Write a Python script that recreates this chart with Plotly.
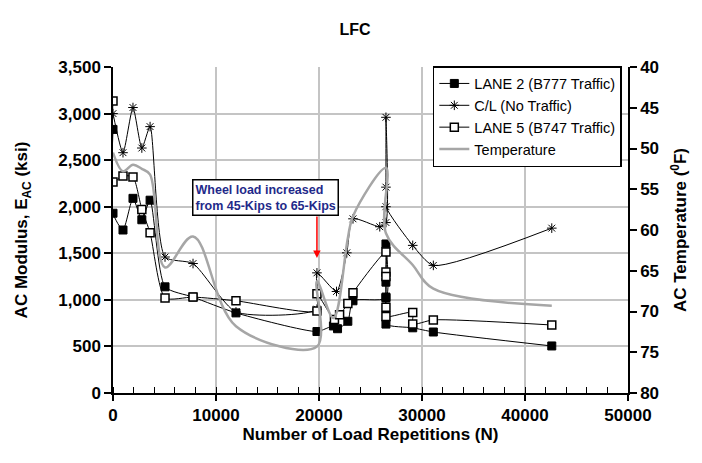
import plotly.graph_objects as go

# ---- data ----
lane2_n = [0, 0, 970, 1940, 2800, 3600, 5050, 7770, 11940, 19800, 21400, 21800, 22800, 23300,
           26500, 26500, 26500, 26500, 26500, 29100, 31100, 42600]
lane2_e = [2830, 1930, 1750, 2090, 1860, 2070, 1140, 1030, 860, 660, 720, 690, 770, 990,
           1020, 1600, 1190, 1030, 740, 700, 655, 505]

cl_n = [0, 970, 1940, 2800, 3600, 5050, 7770, 11940, 19800, 19800, 21700, 22700, 23300, 25900,
        26500, 26500, 26500, 26500, 29100, 31100, 42600]
cl_e = [3000, 2580, 3065, 2630, 2860, 1460, 1390, 870, 900, 1290, 1090, 1505, 1870, 1785,
        1830, 2960, 2210, 2000, 1585, 1370, 1770]

lane5_n = [0, 0, 970, 1940, 2800, 3600, 5050, 7770, 11940, 19800, 19800, 21500, 22000, 22800, 23300,
           26500, 26500, 26500, 26500, 26500, 29100, 29100, 31100, 42600]
lane5_e = [3135, 2265, 2330, 2320, 1970, 1720, 1020, 1030, 990, 880, 1065, 790, 840, 960, 1075,
           1515, 1300, 1250, 920, 820, 865, 740, 785, 730]

temp_n = [0, 970, 1940, 2800, 3600, 5050, 7770, 11940, 19800, 19800, 21400, 22800, 23300,
          26500, 26500, 29100, 31100, 42600]
temp_f = [50.5, 52.8, 52.0, 52.5, 53.2, 64.6, 60.8, 71.8, 74.3, 66.3, 70.8, 61.0, 58.3,
          52.4, 60.4, 64.3, 67.2, 69.3]

x_ticks = [0, 10000, 20000, 30000, 40000, 50000]
y_ticks = [0, 500, 1000, 1500, 2000, 2500, 3000, 3500]
t_ticks = [40, 45, 50, 55, 60, 65, 70, 75, 80]

FONT = "Arial, Liberation Sans, sans-serif"

fig = go.Figure()
fig.add_trace(go.Scatter(
    x=lane2_n, y=lane2_e, name="LANE 2 (B777 Traffic)", mode="lines+markers",
    line=dict(color="black", width=1, shape="spline", smoothing=0.6),
    marker=dict(symbol="square", size=8, color="black", line=dict(color="black", width=1))))
fig.add_trace(go.Scatter(
    x=cl_n, y=cl_e, name="C/L (No Traffic)", mode="lines+markers",
    line=dict(color="black", width=1, shape="spline", smoothing=0.6),
    marker=dict(symbol="asterisk-open", size=8, color="black", line=dict(color="black", width=1))))
fig.add_trace(go.Scatter(
    x=lane5_n, y=lane5_e, name="LANE 5 (B747 Traffic)", mode="lines+markers",
    line=dict(color="black", width=1, shape="spline", smoothing=0.6),
    marker=dict(symbol="square", size=8, color="white", line=dict(color="black", width=1.5))))
fig.add_trace(go.Scatter(
    x=temp_n, y=temp_f, name="Temperature", mode="lines", yaxis="y2",
    line=dict(color="#a6a6a6", width=2.5, shape="spline", smoothing=1.0)))

# page body has an 8px margin, so the figure is drawn 8px right/down
fig.update_layout(
    width=694, height=455,
    paper_bgcolor="white", plot_bgcolor="white",
    margin=dict(l=105, r=74, t=59, b=70, autoexpand=False),
    font=dict(family=FONT, color="black"),
    title=dict(text="LFC", x=0.5, xanchor="center", y=0.952, yanchor="middle",
               font=dict(size=16, weight="bold", family=FONT)),
    showlegend=True,
    legend=dict(x=0.621, y=1.003, xanchor="left", yanchor="top",
                bgcolor="white", bordercolor="black", borderwidth=1.5,
                font=dict(size=14.5, family=FONT, color="black"),
                tracegroupgap=0, itemwidth=30),
    xaxis=dict(range=[0, 50000], tickvals=x_ticks, ticktext=[str(v) for v in x_ticks],
               showgrid=True, gridcolor="#c4c4c4", gridwidth=1.5,
               showline=True, linecolor="black", linewidth=1.5,
               ticks="outside", ticklen=6, tickwidth=1.5, tickcolor="black",
               minor=dict(dtick=2000, ticks="inside", ticklen=6, tickwidth=1.2, tickcolor="black", showgrid=False),
               tickfont=dict(size=17, weight="bold", family=FONT),
               title=dict(text="Number of Load Repetitions (N)", standoff=4,
                          font=dict(size=17, weight="bold", family=FONT)),
               zeroline=False, automargin=False),
    yaxis=dict(range=[0, 3500], tickvals=y_ticks, tickformat=",",
               showgrid=True, gridcolor="#c4c4c4", gridwidth=1.5,
               showline=True, linecolor="black", linewidth=1.5,
               ticks="outside", ticklen=7, tickwidth=1.5, tickcolor="black",
               tickfont=dict(size=17, weight="bold", family=FONT),
               title=dict(text="AC Modulus, E<sub>AC</sub> (ksi)", standoff=26,
                          font=dict(size=17, weight="bold", family=FONT)),
               zeroline=False, automargin=False),
    yaxis2=dict(range=[80, 40], tickvals=t_ticks, overlaying="y", side="right",
                showgrid=False, showline=True, linecolor="black", linewidth=1.5,
                ticks="outside", ticklen=7, tickwidth=1.5, tickcolor="black",
                tickfont=dict(size=17, weight="bold", family=FONT),
                title=dict(text="AC Temperature (<sup>0</sup>F)", standoff=16,
                           font=dict(size=17, weight="bold", family=FONT)),
                zeroline=False, automargin=False),
)

fig.add_annotation(
    x=14757, y=2099, xref="x", yref="y", showarrow=False,
    text="Wheel load increased<br>from 45-Kips to 65-Kips", align="left",
    font=dict(size=12.5, weight="bold", family=FONT, color="#1f2a8a"),
    bgcolor="white", bordercolor="black", borderwidth=1.5, borderpad=2)
fig.add_annotation(
    x=19800, y=1450, ax=19800, ay=1911, xref="x", yref="y", axref="x", ayref="y",
    text="", showarrow=True, arrowhead=2, arrowsize=1, arrowwidth=1.5, arrowcolor="red")

fig.write_html("out.html")
